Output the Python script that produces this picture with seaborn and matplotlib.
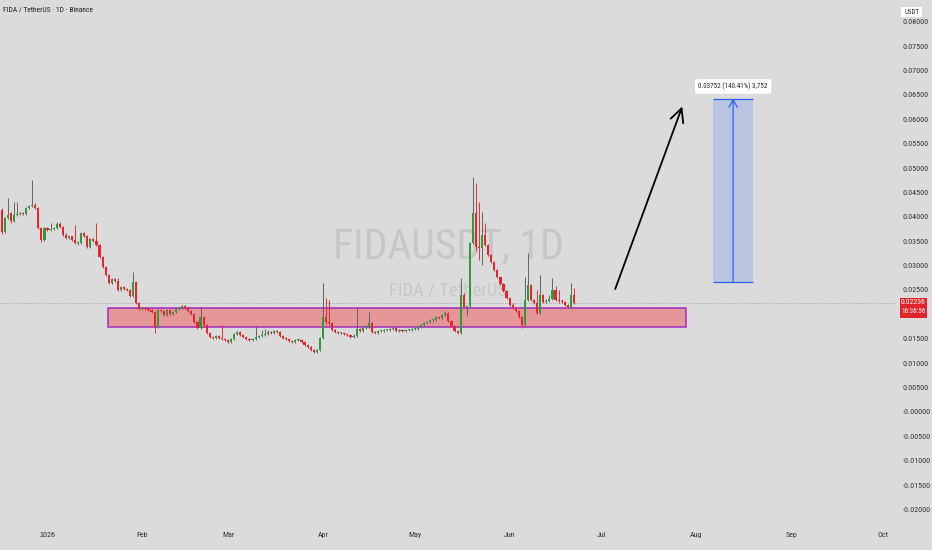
import matplotlib

matplotlib.use("Agg")
import matplotlib.dates as mdates
import matplotlib.pyplot as plt
import matplotlib.transforms as mtransforms
import numpy as np
import pandas as pd
import seaborn as sns
from matplotlib import font_manager
from matplotlib.patches import Rectangle

# ─── データ（日足ローソク, 2025-12-17 から） ─────────────────────
FIRST_DAY = "2025-12-17"

opens = [
    .0414, .0369, .0398, .0408, .0392, .0404, .0406, .0408, .0406, .0418,
    .0422, .0424, .0419, .0377, .0352, .0377, .0373, .0375, .0378, .0385,
    .0380, .0363, .0357, .0360, .0352, .0346, .0346, .0367, .0360, .0338,
    .0355, .0350, .0342, .0318, .0297, .0281, .0264, .0272, .0268, .0250,
    .0256, .0253, .0250, .0238, .0266, .0223, .0211, .0214, .0211, .0209,
    .0205, .0175, .0209, .0207, .0199, .0209, .0201, .0205, .0211, .0214,
    .0218, .0213, .0207, .0201, .0184, .0172, .0195, .0178, .0162, .0154,
    .0152, .0156, .0152, .0150, .0148, .0143, .0150, .0160, .0164, .0158,
    .0154, .0150, .0148, .0150, .0154, .0155, .0158, .0160, .0164, .0162,
    .0166, .0164, .0156, .0152, .0150, .0146, .0143, .0148, .0148, .0144,
    .0138, .0133, .0127, .0123, .0127, .0152, .0195, .0184, .0182, .0168,
    .0164, .0162, .0162, .0160, .0157, .0154, .0156, .0171, .0166, .0172,
    .0174, .0182, .0164, .0162, .0166, .0166, .0168, .0168, .0170, .0172,
    .0166, .0168, .0166, .0168, .0168, .0170, .0170, .0174, .0178, .0182,
    .0184, .0188, .0188, .0195, .0193, .0199, .0203, .0186, .0176, .0166,
    .0162, .0240, .0216, .0217, .0346, .0408, .0339, .0336, .0363, .0342,
    .0322, .0308, .0291, .0277, .0262, .0247, .0233, .0220, .0214, .0207,
    .0195, .0178, .0230, .0260, .0230, .0223, .0203, .0240, .0226, .0227,
    .0232, .0250, .0230, .0228, .0226, .0219, .0216, .0240,
]
highs = [
    .0418, .0400, .0439, .0410, .0430, .0430, .0410, .0410, .0420, .0424,
    .0475, .0428, .0421, .0379, .0379, .0380, .0387, .0380, .0390, .0390,
    .0382, .0366, .0362, .0361, .0383, .0350, .0369, .0369, .0362, .0357,
    .0357, .0387, .0344, .0320, .0299, .0283, .0275, .0274, .0275, .0258,
    .0258, .0255, .0252, .0287, .0268, .0225, .0216, .0216, .0213, .0211,
    .0207, .0211, .0211, .0209, .0211, .0211, .0207, .0213, .0216, .0220,
    .0219, .0215, .0209, .0203, .0186, .0216, .0197, .0180, .0164, .0156,
    .0158, .0158, .0178, .0152, .0150, .0152, .0162, .0166, .0166, .0160,
    .0156, .0152, .0152, .0176, .0157, .0168, .0170, .0168, .0166, .0168,
    .0168, .0166, .0158, .0154, .0152, .0148, .0150, .0150, .0150, .0146,
    .0140, .0135, .0129, .0129, .0154, .0264, .0234, .0230, .0185, .0170,
    .0166, .0164, .0164, .0162, .0159, .0159, .0213, .0173, .0174, .0178,
    .0205, .0184, .0166, .0168, .0168, .0170, .0170, .0172, .0174, .0174,
    .0170, .0170, .0170, .0170, .0172, .0172, .0176, .0180, .0184, .0186,
    .0190, .0190, .0197, .0197, .0201, .0207, .0205, .0188, .0178, .0168,
    .0274, .0244, .0218, .0348, .0482, .0469, .0430, .0410, .0387, .0344,
    .0324, .0310, .0293, .0279, .0264, .0249, .0235, .0224, .0216, .0209,
    .0197, .0277, .0326, .0262, .0232, .0250, .0281, .0242, .0232, .0240,
    .0274, .0258, .0250, .0232, .0228, .0222, .0264, .0254,
]
lows = [
    .0365, .0366, .0395, .0388, .0390, .0401, .0403, .0403, .0404, .0416,
    .0420, .0416, .0374, .0349, .0350, .0371, .0371, .0373, .0376, .0378,
    .0361, .0355, .0355, .0350, .0344, .0343, .0344, .0358, .0336, .0336,
    .0348, .0340, .0316, .0295, .0279, .0262, .0262, .0266, .0248, .0248,
    .0251, .0248, .0236, .0236, .0221, .0209, .0209, .0209, .0207, .0203,
    .0162, .0172, .0205, .0197, .0197, .0199, .0199, .0203, .0209, .0212,
    .0211, .0205, .0199, .0182, .0170, .0170, .0176, .0160, .0152, .0150,
    .0150, .0150, .0148, .0146, .0141, .0141, .0148, .0158, .0156, .0152,
    .0148, .0146, .0146, .0148, .0152, .0153, .0156, .0158, .0160, .0160,
    .0162, .0154, .0150, .0148, .0144, .0141, .0141, .0146, .0142, .0136,
    .0131, .0125, .0121, .0121, .0125, .0150, .0180, .0178, .0166, .0162,
    .0160, .0159, .0158, .0155, .0152, .0152, .0154, .0164, .0164, .0170,
    .0172, .0162, .0160, .0160, .0164, .0164, .0166, .0166, .0168, .0164,
    .0164, .0164, .0164, .0166, .0166, .0168, .0168, .0172, .0176, .0180,
    .0182, .0185, .0186, .0190, .0191, .0197, .0184, .0174, .0164, .0160,
    .0160, .0214, .0199, .0215, .0344, .0330, .0311, .0301, .0340, .0320,
    .0306, .0289, .0275, .0260, .0245, .0231, .0218, .0212, .0205, .0193,
    .0172, .0176, .0228, .0228, .0221, .0201, .0201, .0224, .0224, .0225,
    .0230, .0228, .0224, .0224, .0217, .0214, .0214, .0221,
]
closes = [
    .0369, .0398, .0404, .0392, .0404, .0406, .0408, .0406, .0418, .0422,
    .0424, .0419, .0377, .0352, .0377, .0373, .0375, .0378, .0385, .0380,
    .0363, .0357, .0360, .0352, .0346, .0346, .0367, .0360, .0338, .0355,
    .0350, .0342, .0318, .0297, .0281, .0264, .0272, .0268, .0250, .0256,
    .0253, .0250, .0238, .0266, .0223, .0211, .0214, .0211, .0209, .0205,
    .0175, .0209, .0207, .0199, .0209, .0201, .0205, .0211, .0214, .0218,
    .0213, .0207, .0201, .0184, .0172, .0195, .0178, .0162, .0154, .0152,
    .0156, .0152, .0150, .0148, .0143, .0150, .0160, .0164, .0158, .0154,
    .0150, .0148, .0150, .0154, .0155, .0158, .0160, .0164, .0162, .0166,
    .0164, .0156, .0152, .0150, .0146, .0143, .0148, .0148, .0144, .0138,
    .0133, .0127, .0123, .0127, .0152, .0195, .0184, .0182, .0168, .0164,
    .0162, .0162, .0160, .0157, .0154, .0156, .0171, .0166, .0172, .0174,
    .0182, .0164, .0162, .0166, .0166, .0168, .0168, .0170, .0172, .0166,
    .0168, .0166, .0168, .0168, .0170, .0170, .0174, .0178, .0182, .0184,
    .0188, .0188, .0195, .0193, .0199, .0203, .0186, .0176, .0166, .0162,
    .0240, .0216, .0217, .0346, .0408, .0339, .0336, .0363, .0342, .0322,
    .0308, .0291, .0277, .0262, .0247, .0233, .0220, .0214, .0207, .0195,
    .0178, .0230, .0260, .0230, .0223, .0203, .0240, .0226, .0227, .0232,
    .0250, .0230, .0228, .0226, .0219, .0216, .0240, .02236,
]

LAST_PRICE = 0.02236
COUNTDOWN = "16:36:56"

# サポートゾーン
ZONE_START, ZONE_END = "2026-01-20 20:00", "2026-07-28 17:00"
ZONE_LOW, ZONE_HIGH = 0.01748, 0.02125

# 予想矢印
ARROW_FROM = ("2026-07-05 12:00", 0.0252)
ARROW_TO = ("2026-07-27 10:00", 0.0626)

# 値幅計測ツール
MEASURE_START, MEASURE_END = "2026-08-06 12:00", "2026-08-19 14:00"
MEASURE_BASE, MEASURE_MOVE = 0.02672, 0.03752
MEASURE_LABEL = "0.03752 (140.41%) 3,752"

# 軸
VIEW_START, VIEW_END = "2025-12-16 11:30", "2026-10-05 14:00"
Y_MIN, Y_MAX = -0.02357, 0.08443
Y_TICKS = [0.08, 0.075, 0.07, 0.065, 0.06, 0.055, 0.05, 0.045, 0.04, 0.035,
           0.03, 0.025, 0.015, 0.01, 0.005, 0.0, -0.005, -0.01, -0.015, -0.02]
Y_LABELS = ["0.08000", "0.07500", "0.07000", "0.06500", "0.06000", "0.05500",
            "0.05000", "0.04500", "0.04000", "0.03500", "0.03000", "0.02500",
            "0.01500", "0.01000", "0.00500", "-0.00000", "-0.00500", "-0.01000",
            "-0.01500", "-0.02000"]
MONTH_TICKS = ["2026-01-01", "2026-02-01", "2026-03-01", "2026-04-01", "2026-05-01",
               "2026-06-01", "2026-07-01", "2026-08-01", "2026-09-01", "2026-10-01"]
MONTH_LABELS = ["2026", "Feb", "Mar", "Apr", "May", "Jun", "Jul", "Aug", "Sep", "Oct"]

# ─── スタイル ────────────────────────────────────────────────
BG = "#dbdbdb"
UP = "#2f9a3c"
DOWN = "#e8232b"
UP_WICK = "#5a5a5a"
BLUE = "#2962ff"
WATERMARK = "#c7c7c7"

sns.set_theme(style="white")
names = {f.name for f in font_manager.fontManager.ttflist}
NARROW = next((n for n in ["Roboto Condensed", "PT Sans Narrow", "Archivo Narrow"] if n in names),
              "DejaVu Sans")
plt.rcParams["font.family"] = [NARROW, "DejaVu Sans"]

fig = plt.figure(figsize=(9.32, 5.5), dpi=100, facecolor=BG)
ax = fig.add_axes([0, 23 / 550, 897 / 932, 527 / 550], facecolor=BG)

# ─── ローソク足 ──────────────────────────────────────────────
df = pd.DataFrame({"open": opens, "high": highs, "low": lows, "close": closes})
df["date"] = pd.date_range(FIRST_DAY, periods=len(df), freq="D")
x = mdates.date2num(df["date"])
up = df["close"] >= df["open"]
body_col = np.where(up, UP, DOWN)
wick_col = np.where(up, UP_WICK, DOWN)
body_h = (df["close"] - df["open"]).to_numpy()
body_h = np.where(np.abs(body_h) < 0.00018, 0.00018, body_h)

ax.vlines(x, df["low"], df["high"], colors=wick_col, lw=0.65, zorder=3)
ax.bar(x, body_h, bottom=df["open"], width=0.7, color=body_col, lw=0, zorder=4)

# ─── ウォーターマーク ────────────────────────────────────────
ax.text(0.5, 0.531, "FIDAUSDT, 1D", transform=ax.transAxes, ha="center",
        va="center", fontsize=30, color=WATERMARK, zorder=0)
ax.text(0.5, 0.448, "FIDA / TetherUS", transform=ax.transAxes, ha="center",
        va="center", fontsize=13.5, color=WATERMARK, zorder=0)

# ─── サポートゾーン ──────────────────────────────────────────
z0, z1 = mdates.date2num(pd.Timestamp(ZONE_START)), mdates.date2num(pd.Timestamp(ZONE_END))
ax.add_patch(Rectangle((z0, ZONE_LOW), z1 - z0, ZONE_HIGH - ZONE_LOW,
                       facecolor=(0.96, 0.22, 0.22, 0.42), edgecolor="#a12bc2",
                       lw=1.1, zorder=2))

# 現在値ライン
ax.axhline(LAST_PRICE, color="#9a9a9a", lw=0.6, ls=(0, (1, 1.6)), zorder=1)

# ─── 矢印 ───────────────────────────────────────────────────
a0 = (mdates.date2num(pd.Timestamp(ARROW_FROM[0])), ARROW_FROM[1])
a1 = (mdates.date2num(pd.Timestamp(ARROW_TO[0])), ARROW_TO[1])
ax.annotate("", xy=a1, xytext=a0,
            arrowprops=dict(arrowstyle="->,head_length=0.8,head_width=0.4",
                            color="black", lw=1.3, shrinkA=0, shrinkB=0), zorder=5)

# ─── 値幅計測 ───────────────────────────────────────────────
m0 = mdates.date2num(pd.Timestamp(MEASURE_START))
m1 = mdates.date2num(pd.Timestamp(MEASURE_END))
top = MEASURE_BASE + MEASURE_MOVE
ax.add_patch(Rectangle((m0, MEASURE_BASE), m1 - m0, MEASURE_MOVE,
                       facecolor=(0.16, 0.38, 1.0, 0.19), lw=0, zorder=2))
ax.hlines([MEASURE_BASE, top], m0, m1, colors=BLUE, lw=0.9, zorder=3)
mid = (m0 + m1) / 2
ax.annotate("", xy=(mid, top), xytext=(mid, MEASURE_BASE),
            arrowprops=dict(arrowstyle="->,head_length=0.45,head_width=0.25",
                            color=BLUE, lw=0.9, shrinkA=0, shrinkB=0), zorder=3)
ax.text(mid, 0.0667, MEASURE_LABEL, ha="center", va="center", fontsize=5,
        color="#222222", zorder=6,
        bbox=dict(boxstyle="round,pad=0.5,rounding_size=0.3", fc="white", ec="none"))

# ─── 軸 ─────────────────────────────────────────────────────
ax.set_xlim(mdates.date2num(pd.Timestamp(VIEW_START)), mdates.date2num(pd.Timestamp(VIEW_END)))
ax.set_ylim(Y_MIN, Y_MAX)
ax.set_yticks(Y_TICKS)
ax.set_yticklabels(Y_LABELS)
ax.yaxis.tick_right()
ax.set_xticks(mdates.date2num(pd.to_datetime(MONTH_TICKS)))
ax.set_xticklabels(MONTH_LABELS)
ax.tick_params(axis="y", length=0, pad=4, labelsize=5.8, labelcolor="#333333")
ax.tick_params(axis="x", length=0, pad=3.5, labelsize=5.8, labelcolor="#333333")
for s in ax.spines.values():
    s.set_visible(False)
ax.grid(False)

# 価格タグ
blend = mtransforms.blended_transform_factory(ax.transAxes, ax.transData)
ax.add_patch(Rectangle((1.0033, 0.01926), 0.030, 0.0041, transform=blend,
                       facecolor="#e0242a", lw=0, clip_on=False, zorder=6))
ax.text(1.0184, LAST_PRICE + 0.0002, f"{LAST_PRICE:.5f}", transform=blend, ha="center",
        va="center", fontsize=5.6, color="white", clip_on=False, zorder=7)
ax.text(1.0184, 0.0205, COUNTDOWN, transform=blend, ha="center", va="center",
        fontsize=5, color="white", clip_on=False, zorder=7)

# USDT ラベル
ax.add_patch(Rectangle((1.0045, 0.9677), 0.0234, 0.019, transform=ax.transAxes,
                       facecolor="white", lw=0, clip_on=False, zorder=6))
ax.text(1.0162, 0.9772, "USDT", transform=ax.transAxes, ha="center", va="center",
        fontsize=5, color="#333333", clip_on=False, zorder=7)

# タイトル
ax.text(3 / 897, 1 - 10 / 527, "FIDA / TetherUS · 1D · Binance", transform=ax.transAxes,
        ha="left", va="center", fontsize=5.4, color="#222222")

fig.savefig("out.png", dpi=100, facecolor=BG)
